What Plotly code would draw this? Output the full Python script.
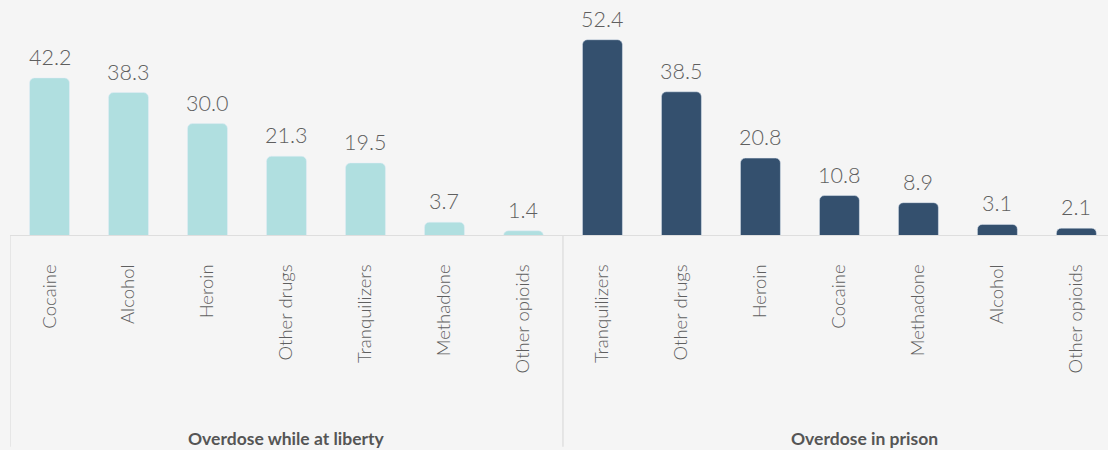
import plotly.graph_objects as go

liberty_cats = ["Cocaine", "Alcohol", "Heroin", "Other drugs", "Tranquilizers", "Methadone", "Other opioids"]
liberty_vals = [42.2, 38.3, 30.0, 21.3, 19.5, 3.7, 1.4]
prison_cats = ["Tranquilizers", "Other drugs", "Heroin", "Cocaine", "Methadone", "Alcohol", "Other opioids"]
prison_vals = [52.4, 38.5, 20.8, 10.8, 8.9, 3.1, 2.1]
group_labels = ["Overdose while at liberty", "Overdose in prison"]

n1 = len(liberty_cats)
x1 = list(range(n1))
x2 = list(range(n1, n1 + len(prison_cats)))

FONT = "Lato, 'Open Sans', sans-serif"
TXT = "#5f5f5f"
fig = go.Figure()
for xs, vals, col in [(x1, liberty_vals, "#b0dfe0"), (x2, prison_vals, "#34506e")]:
    fig.add_trace(go.Bar(x=xs, y=vals, marker=dict(color=col, cornerradius=5),
                         width=0.506, hoverinfo="y"))
    for xv, v in zip(xs, vals):
        fig.add_annotation(x=xv, y=v, xref="x", yref="y", text=f"{v:.1f}", showarrow=False,
                           yanchor="bottom", yshift=6,
                           font=dict(size=21.5, color=TXT, family=FONT, weight=300))

fig.update_layout(
    width=1108, height=450,
    margin=dict(l=10, r=0, t=0, b=214),
    paper_bgcolor="#f5f5f5", plot_bgcolor="#f5f5f5",
    showlegend=False, barmode="overlay",
    xaxis=dict(range=[-0.5, 13.4], tickvals=x1 + x2, ticktext=liberty_cats + prison_cats,
               tickangle=-90, tickfont=dict(size=18.5, color=TXT, family=FONT, weight=300),
               showgrid=False, zeroline=False, showline=False, ticks="outside", ticklen=20,
               tickcolor="rgba(0,0,0,0)", fixedrange=True),
    yaxis=dict(range=[0, 63], visible=False, fixedrange=True),
)

# baseline
fig.add_shape(type="line", xref="paper", yref="y", x0=0, x1=1, y0=0, y1=0,
              line=dict(color="#dedede", width=2), layer="above")
# group dividers
for xv in [-0.5, n1 - 0.5]:
    fig.add_shape(type="line", xref="x", yref="paper", x0=xv, x1=xv, y0=0, y1=-0.893,
                  line=dict(color="#e0e0e0", width=1.5))

for px, lab in zip([0.2518, 0.778], group_labels):
    fig.add_annotation(x=px, xref="paper", y=-0.86, yref="paper", text=f"<b>{lab}</b>",
                       showarrow=False, font=dict(size=17.5, color="#555555", family=FONT),
                       xanchor="center", yanchor="middle")

fig.write_html("out.html", post_script="document.body.style.margin='0';",
               config={"displayModeBar": False})
